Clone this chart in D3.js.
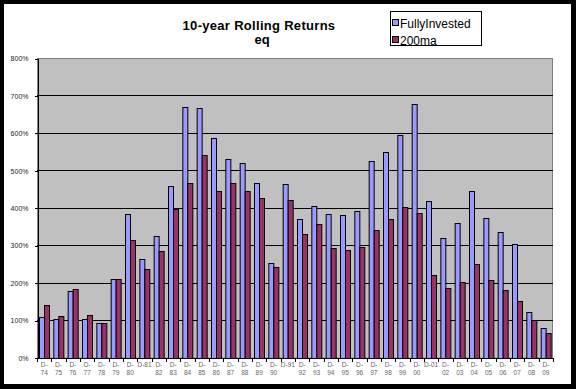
<!DOCTYPE html>
<html>
<head>
<meta charset="utf-8">
<script src="https://cdn.jsdelivr.net/npm/d3@7"></script>
<style>
  html, body { margin: 0; padding: 0; background: #000; }
  svg { display: block; font-family: 'Liberation Sans', Arial, sans-serif; }
</style>
</head>
<body>
<script>
// 10-year rolling returns, two strategies
var categories = ['D-74', 'D-75', 'D-76', 'D-77', 'D-78', 'D-79', 'D-80', 'D-81', 'D-82', 'D-83',
  'D-84', 'D-85', 'D-86', 'D-87', 'D-88', 'D-89', 'D-90', 'D-91', 'D-92', 'D-93',
  'D-94', 'D-95', 'D-96', 'D-97', 'D-98', 'D-99', 'D-00', 'D-01', 'D-02', 'D-03',
  'D-04', 'D-05', 'D-06', 'D-07', 'D-08', 'D-09']
// excel wrapped most labels onto two lines, a few stayed on one
var tickLabels = ['D-|74', 'D-|75', 'D-|76', 'D-|77', 'D-|78', 'D-|79', 'D-|80', 'D-81', 'D-|82', 'D-|83',
  'D-|84', 'D-|85', 'D-|86', 'D-|87', 'D-|88', 'D-|89', 'D-|90', 'D-91', 'D-|92', 'D-|93',
  'D-|94', 'D-|95', 'D-|96', 'D-|97', 'D-|98', 'D-|99', 'D-|00', 'D-01', 'D-|02', 'D-|03',
  'D-|04', 'D-|05', 'D-|06', 'D-|07', 'D-|08', 'D-|09']
var fullyInvested = [1.08, 1.02, 1.78, 1.02, 0.93, 2.09, 3.82, 2.62, 3.24, 4.57,
  6.68, 6.66, 5.85, 5.29, 5.19, 4.65, 2.52, 4.63, 3.69, 4.04,
  3.82, 3.80, 3.90, 5.24, 5.48, 5.93, 6.76, 4.17, 3.18, 3.58,
  4.44, 3.72, 3.34, 3.02, 1.21, 0.80]
var ma200 = [1.40, 1.11, 1.82, 1.13, 0.93, 2.09, 3.13, 2.37, 2.84, 3.96,
  4.65, 5.40, 4.44, 4.65, 4.44, 4.25, 2.43, 4.20, 3.29, 3.56,
  2.92, 2.86, 2.94, 3.40, 3.69, 4.01, 3.85, 2.20, 1.85, 2.01,
  2.49, 2.06, 1.79, 1.50, 1.00, 0.65]
var seriesNames = ['FullyInvested', '200ma']
var yTicks = [0, 1, 2, 3, 4, 5, 6, 7, 8]

var width = 576
var height = 389
var plot = { left: 37, right: 553, top: 58, bottom: 357.5 }
var colors = { FullyInvested: '#9999FF', '200ma': '#993366' }

var svg = d3.select('body').append('svg')
  .attr('width', width)
  .attr('height', height)

// black frame round a white chart area
svg.append('rect')
  .attr('width', width).attr('height', height)
  .style('fill', '#000')
svg.append('rect')
  .attr('x', 4).attr('y', 4)
  .attr('width', 567).attr('height', 380)
  .style('fill', '#fff')

var x = d3.scaleBand()
  .domain(categories)
  .range([plot.left, plot.right])
  .padding(0)

var x1 = d3.scaleBand()
  .domain(seriesNames)
  .range([x.bandwidth() * 0.15, x.bandwidth() * 0.85])

var y = d3.scaleLinear()
  .domain([0, 8])
  .range([plot.bottom, plot.top])

// plot background
svg.append('rect')
  .attr('x', plot.left + 0.5)
  .attr('y', plot.top + 0.5)
  .attr('width', plot.right - plot.left - 1)
  .attr('height', plot.bottom - plot.top)
  .style('fill', '#C0C0C0')
  .style('stroke', '#808080')
  .style('stroke-width', 1)

// gridlines
svg.append('g')
  .selectAll('line')
  .data(yTicks.slice(1, -1))
  .join('line')
  .attr('x1', plot.left)
  .attr('x2', plot.right)
  .attr('y1', function (d) { return Math.round(y(d)) + 0.5 })
  .attr('y2', function (d) { return Math.round(y(d)) + 0.5 })
  .style('stroke', '#000')
  .style('stroke-width', 1)

// bars
var rows = categories.map(function (c, i) {
  return { cat: c, values: [{ key: 'FullyInvested', v: fullyInvested[i] }, { key: '200ma', v: ma200[i] }] }
})

svg.append('g')
  .selectAll('g')
  .data(rows)
  .join('g')
  .attr('transform', function (d) { return 'translate(' + x(d.cat) + ',0)' })
  .selectAll('rect')
  .data(function (d) { return d.values })
  .join('rect')
  .attr('x', function (d) { return Math.round(x1(d.key)) + 0.5 })
  .attr('y', function (d) { return Math.round(y(d.v)) + 0.5 })
  .attr('width', function () { return Math.round(x1.bandwidth()) })
  .attr('height', function (d) { return Math.round(y(0)) - Math.round(y(d.v)) })
  .style('fill', function (d) { return colors[d.key] })
  .style('stroke', '#000')
  .style('stroke-width', 1)

// y axis
var yAxis = svg.append('g')
  .attr('transform', 'translate(' + (plot.left + 0.5) + ',0.5)')
  .call(d3.axisLeft(y)
    .tickValues(yTicks)
    .tickFormat(d3.format('.0%'))
    .tickSize(3)
    .tickSizeOuter(0)
    .tickPadding(6))
yAxis.selectAll('path, line').style('stroke', '#000').attr('shape-rendering', 'crispEdges')
yAxis.selectAll('text')
  .style('font-size', '7px')
  .style('font-family', "'Liberation Sans', Arial, sans-serif")
  .style('fill', '#222')

// x axis line + ticks between groups
var xAxis = svg.append('g')
svg.append('line')
  .attr('x1', plot.left).attr('x2', plot.right)
  .attr('y1', Math.round(plot.bottom) + 0.5).attr('y2', Math.round(plot.bottom) + 0.5)
  .style('stroke', '#000')
xAxis.selectAll('line')
  .data(categories.concat(['end']))
  .join('line')
  .attr('x1', function (d, i) { return Math.round(plot.left + i * x.step()) + 0.5 })
  .attr('x2', function (d, i) { return Math.round(plot.left + i * x.step()) + 0.5 })
  .attr('y1', Math.round(plot.bottom))
  .attr('y2', Math.round(plot.bottom) + 4)
  .style('stroke', '#000')

var labels = xAxis.selectAll('text')
  .data(categories)
  .join('text')
  .attr('x', function (d) { return x(d) + x.bandwidth() / 2 })
  .attr('y', 367)
  .attr('text-anchor', 'middle')
  .style('font-size', '6.5px')
  .style('fill', '#666')
labels.each(function (d, i) {
  var parts = tickLabels[i].split('|')
  var t = d3.select(this)
  parts.forEach(function (p, j) {
    t.append('tspan')
      .attr('x', x(d) + x.bandwidth() / 2)
      .attr('dy', j === 0 ? 0 : 8)
      .text(p)
  })
})

// title, two lines as separate texts
svg.append('text')
  .attr('x', 259)
  .attr('y', 30)
  .attr('text-anchor', 'middle')
  .style('font-size', '13px')
  .style('font-weight', 'bold')
  .style('letter-spacing', '0.3px')
  .text('10-year Rolling Returns')
svg.append('text')
  .attr('x', 262)
  .attr('y', 43.5)
  .attr('text-anchor', 'middle')
  .style('font-size', '13px')
  .style('font-weight', 'bold')
  .text('eq')

// legend
var legend = svg.append('g')
legend.append('rect')
  .attr('x', 390.5).attr('y', 11.5)
  .attr('width', 91).attr('height', 34)
  .style('fill', '#fff')
  .style('stroke', '#000')
var items = legend.selectAll('g.item')
  .data(seriesNames)
  .join('g')
  .attr('class', 'item')
  .attr('transform', function (d, i) { return 'translate(0,' + (i * 17) + ')' })
items.append('rect')
  .attr('x', 392.5).attr('y', 19.5)
  .attr('width', 6).attr('height', 6)
  .style('fill', function (d) { return colors[d] })
  .style('stroke', '#000')
items.append('text')
  .attr('x', 400)
  .attr('y', 27.5)
  .style('font-size', '12px')
  .text(function (d) { return d })
</script>
</body>
</html>
